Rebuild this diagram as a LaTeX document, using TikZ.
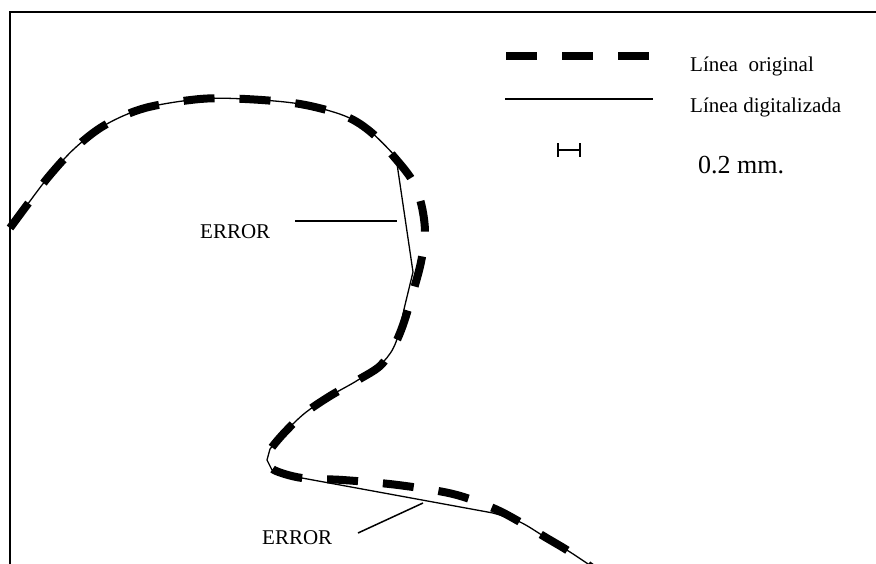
\documentclass[tikz,border=0pt]{standalone}
\usepackage{fontspec}
\setmainfont{Liberation Serif}
\begin{document}
\begin{tikzpicture}[x=1pt,y=-1pt,
  orig/.style={line width=8pt, dash pattern=on 31pt off 25pt},
  digi/.style={line width=1.3pt},
  leader/.style={line width=1.5pt},
  lbl/.style={font=\fontsize{21}{25}\selectfont, inner sep=0pt, anchor=base west},
  frame/.style={line width=2.2pt}]
\useasboundingbox (0,0) rectangle (876,563);
\clip (0,0) rectangle (876,563);
% frame
\draw[frame] (880,12) -- (10,12) -- (10,570);
% original line (thick dashed)
\draw[orig] plot[smooth, tension=0.55] coordinates {
 (10,228) (30,201) (50,175) (75,148) (105,125) (145,108) (200,99) (245,99)
 (300,104) (345,116) (372,133) (395,158) (412,180) (421,203) (425,232)
 (421,262) (413,292) (403,325) (393,348) (380,366) (358,380) (330,396)
 (305,413) (285,432) (270,450) (267,460) (274,470) (302,478) (343,480)
 (398,485) (453,494) (493,508) (520,522) (545,537) (570,552) (595,570)};
% digitized line (thin)
\draw[digi] plot[smooth, tension=0.55] coordinates {
 (10,228) (30,201) (50,175) (75,148) (105,125) (145,108) (200,99) (245,99)
 (300,104) (345,116) (372,133) (396,157)}
 -- (413,272)
 -- plot[smooth, tension=0.55] coordinates {
 (413,272) (405,305) (396,342) (383,362) (358,380) (330,396)
 (305,413) (285,432) (270,449)}
 -- (267,460) -- (272,470) -- (302,478) -- (493,513)
 -- plot[smooth, tension=0.55] coordinates {(493,513) (520,522) (545,537) (570,552) (597,570)};
% legend
\coordinate (lga) at (506,56); \coordinate (lgb) at (650,56);
\draw[orig] (lga) -- (lgb);
\coordinate (lda) at (505,99); \coordinate (ldb) at (653,99);
\draw[digi] (lda) -- (ldb);
\coordinate (sa) at (558,150); \coordinate (sb) at (580,150);
\draw[line width=1.2pt] (sa) ++(0,-7) -- ++(0,14) (sa) -- (sb) ++(0,-7) -- ++(0,14);
\node[lbl] (lo) at (690,71) {Línea\ \ original};
\node[lbl] (ld) at (690,112) {Línea digitalizada};
\node[lbl, font=\fontsize{26}{30}\selectfont] (sc) at (698,173) {0.2 mm.};
% error labels
\node[lbl] (e1) at (200,238) {ERROR};
\node[lbl] (e2) at (262,544) {ERROR};
\coordinate (e1a) at (295,221); \coordinate (e1b) at (397,221);
\draw[leader] (e1a) -- (e1b);
\coordinate (e2a) at (358,533); \coordinate (e2b) at (423,503);
\draw[leader] (e2a) -- (e2b);
\end{tikzpicture}
\end{document}
